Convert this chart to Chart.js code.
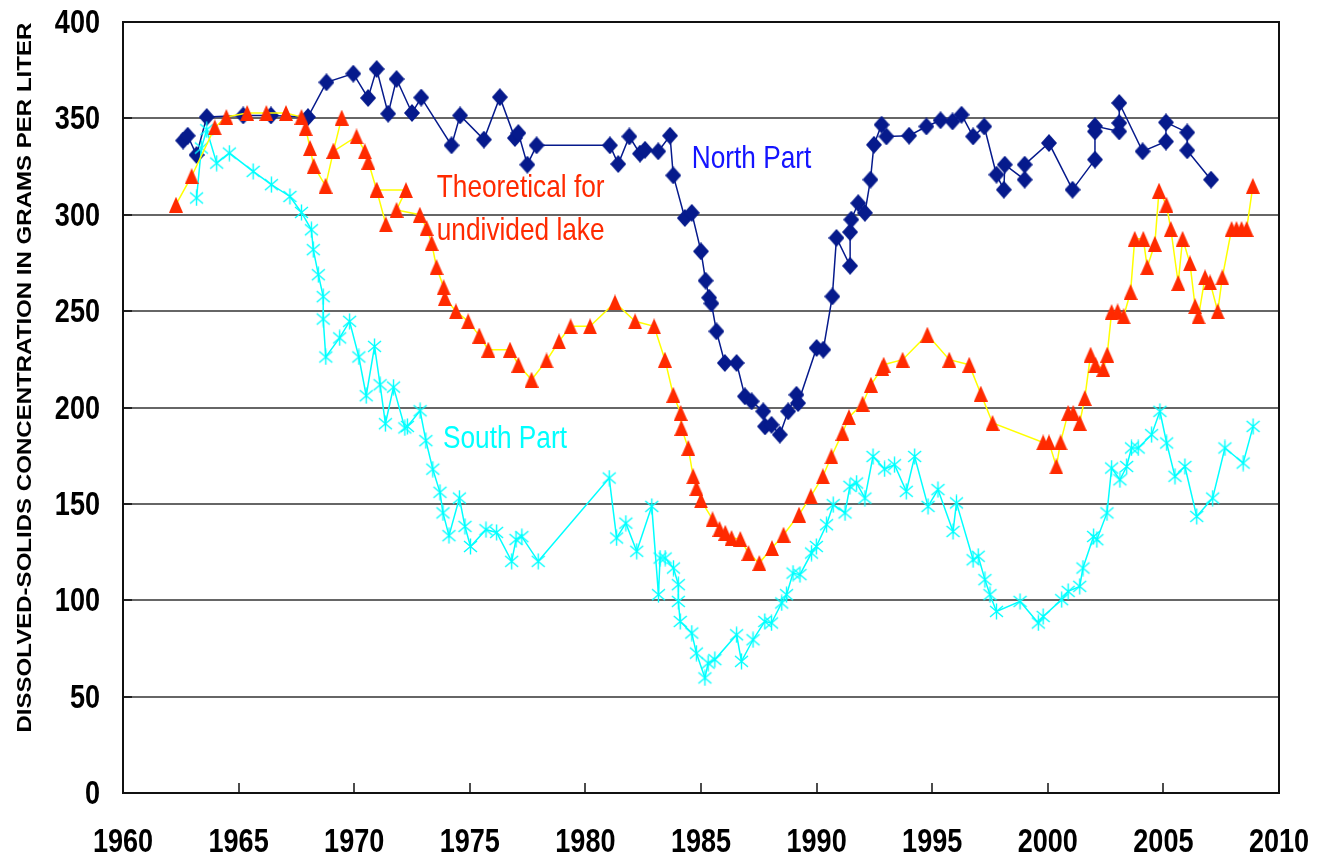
<!DOCTYPE html>
<html>
<head>
<meta charset="utf-8">
<script src="https://cdn.jsdelivr.net/npm/chart.js@4.4.1/dist/chart.umd.min.js"></script>
<style>
html,body{margin:0;padding:0;background:#fff;}
#wrap{width:1317px;height:861px;position:relative;}
</style>
</head>
<body>
<div id="wrap"><canvas id="c" width="1317" height="861"></canvas></div>
<script>
// ---------------- data ----------------
const xTickLabels = ['1960','1965','1970','1975','1980','1985','1990','1995','2000','2005','2010'];
const yTickLabels = ['0','50','100','150','200','250','300','350','400'];
const yAxisTitle = 'DISSOLVED-SOLIDS CONCENTRATION IN GRAMS PER LITER';
const seriesNames = ['North Part', 'Theoretical for undivided lake', 'South Part'];

const northYears = [1962.6,1962.8,1963.18,1963.62,1965.2,1966.4,1968.0,1968.8,1969.96,1970.6,1970.97,1971.47,1971.83,1972.5,1972.9,1974.21,1974.58,1975.61,1976.3,1976.95,1977.1,1977.49,1977.89,1981.06,1981.42,1981.9,1982.36,1982.58,1983.15,1983.66,1983.8,1984.3,1984.6,1985.0,1985.2,1985.35,1985.45,1985.67,1986.03,1986.54,1986.9,1987.19,1987.69,1987.77,1988.05,1988.41,1988.77,1989.13,1989.2,1990.0,1990.29,1990.68,1990.86,1991.45,1991.45,1991.5,1991.8,1992.09,1992.33,1992.48,1992.81,1993.02,1994.0,1994.75,1995.36,1995.88,1996.27,1996.77,1997.25,1997.78,1998.1,1998.14,1999.0,1999.0,2000.05,2001.07,2002.04,2002.04,2002.04,2003.09,2003.09,2003.09,2004.1,2005.11,2005.11,2006.03,2006.03,2007.06];
const northValues = [338.5,341,331,350.7,351.5,351.5,350.7,368.7,373.2,360.6,375.6,352.4,370.4,352.8,360.8,336,351.5,339,361,339.8,342.4,326,336,336,326.3,340.6,331.7,333.7,332.9,341,320.4,298.3,301,281,265.8,257,254,239.5,223.1,223.1,205.8,203.2,198,190.2,191,185.9,198,206.6,202.3,230.9,230,257.6,288,273.5,291,297.5,306,301,318.2,336.3,346.7,340.6,341,345.8,349,348.4,351.9,340.6,345.8,320.8,313,326,318.2,326,337.2,313,328.6,343.2,346,343.2,347.6,358,332.9,338,347.9,342.7,333.4,318.2];

const theoYears = [1962.29,1962.97,1963.97,1964.47,1965.37,1966.2,1967.05,1967.72,1967.9,1968.09,1968.25,1968.76,1969.1,1969.46,1969.1,1970.1,1970.46,1970.61,1970.97,1971.37,1970.97,1972.24,1971.83,1972.84,1973.13,1973.35,1973.56,1973.87,1973.92,1974.4,1974.93,1975.41,1975.8,1976.74,1977.1,1977.67,1978.32,1978.86,1979.36,1980.2,1981.28,1982.15,1982.97,1983.44,1983.8,1984.12,1984.15,1984.45,1984.66,1984.8,1985.0,1985.5,1985.8,1986.05,1986.32,1986.7,1987.05,1987.52,1988.07,1988.57,1989.24,1989.75,1990.27,1990.64,1991.12,1991.4,1991.99,1992.35,1992.84,1992.9,1993.72,1994.79,1995.74,1996.6,1997.1,1997.61,1999.8,2000.05,2000.37,2000.55,2000.88,2001.1,2001.38,2001.6,2001.85,2002.06,2002.4,2002.57,2002.76,2003.02,2003.28,2003.58,2003.76,2004.13,2004.3,2004.63,2004.81,2005.13,2005.32,2005.64,2005.83,2006.15,2006.37,2006.52,2006.8,2007.02,2007.35,2007.55,2007.95,2008.16,2008.38,2008.6,2008.87];
const theoValues = [305.2,320,345.3,350.7,352.8,352.8,352.8,350.7,345,334.6,325.3,315,332.9,350.4,332.9,340.6,332.9,327.5,312.8,295,312.8,312.8,302.5,300,293.1,285.3,272.8,262.4,256.8,249.9,244.7,237.3,230,230,222.2,214.4,224.4,234.3,242.1,242.1,254.5,244.7,242.1,224.8,206.6,197.2,189.4,179,164.3,158.2,151.8,142,137,135,132.3,131.8,124.5,119.3,127.1,134,144.4,153.9,164.3,174.6,186.8,195,202,211.8,220.5,222.2,224.8,237.8,224.8,222.2,207.2,192,181.9,181.9,169.4,181.9,197.2,197.2,192,204.9,227.4,222.2,220,227.4,249.5,249.9,247.3,259.9,287.5,287.5,272.8,284.9,312.5,305.2,292.6,264.6,287.5,274.8,252.5,247.3,267.5,264.9,249.9,267.5,292.6,292.6,292.6,292.6,315];

const southYears = [1963.18,1963.39,1963.62,1964.05,1964.6,1965.63,1966.42,1967.22,1967.72,1968.15,1968.23,1968.45,1968.66,1968.66,1968.77,1969.37,1969.8,1970.2,1970.52,1970.88,1971.12,1971.35,1971.7,1972.19,1972.3,1972.85,1973.1,1973.4,1973.71,1973.84,1974.1,1974.55,1974.79,1975.03,1975.7,1976.16,1976.81,1977.0,1977.25,1977.96,1981.03,1981.35,1981.75,1982.22,1982.87,1983.16,1983.23,1983.45,1983.81,1984.02,1984.02,1984.1,1984.6,1984.8,1985.17,1985.31,1985.6,1986.54,1986.75,1987.25,1987.76,1988.05,1988.49,1988.7,1988.98,1989.28,1989.78,1989.99,1990.43,1990.72,1991.23,1991.44,1991.73,1992.09,1992.44,1992.94,1993.37,1993.88,1994.24,1994.82,1995.25,1995.9,1996.05,1996.77,1996.99,1997.28,1997.5,1997.78,1998.8,1999.59,1999.8,2000.6,2000.88,2001.38,2001.52,2001.98,2002.12,2002.56,2002.76,2003.12,2003.41,2003.62,2003.91,2004.49,2004.85,2005.14,2005.5,2005.93,2006.44,2007.13,2007.66,2008.45,2008.88];
const southValues = [308.7,334.6,344.1,326.8,332,322.5,315.6,309.5,301.2,292.2,281.9,268.9,257.5,245.9,226.2,236.1,244.7,226.2,206.1,231.7,211.8,191.6,210.6,189.4,190.2,198.3,182.8,168,156,145.3,133.5,153,138.3,127.9,136.6,135.2,120.2,131.5,133,120.2,163.4,132.3,140,125.4,148.7,102.9,121.9,121.9,116.7,108.1,99.4,89,83,72.6,59.7,67.4,69.2,82.1,68.3,79.5,89,88.2,98.6,102.9,114.1,113.3,124.5,127.9,139.2,149.6,145.3,159.1,160.8,153,174.6,168.1,170.3,156.5,174.6,148.7,157.4,135.7,150.5,121,122.8,110.7,102.9,94.2,99.4,88.2,91.6,100.3,104.6,107.2,116.7,133.1,131.4,145.3,168.6,162.5,169.4,179,179,185.9,198,181.6,164.3,169.4,143.5,153,179,171.2,190.2];

// ---------------- styling ----------------
const NAVY = '#061a8c';
const RED = '#ff2a00';
const YELLOW = '#ffff00';
const CYAN = '#00ffff';
const SANS = "'Liberation Sans', Arial, sans-serif";
const CONDENSE = 0.82;   // narrow look of the original labels

function toXY(xs, ys){ return xs.map((x,i)=>({x:x, y:ys[i]})); }

function diamondImg(color){
  const c=document.createElement('canvas'); c.width=16; c.height=18;
  const g=c.getContext('2d'); g.fillStyle=color;
  g.beginPath(); g.moveTo(8,0); g.lineTo(16,9); g.lineTo(8,18); g.lineTo(0,9); g.closePath(); g.fill();
  return c;
}
function triangleImg(color){
  const c=document.createElement('canvas'); c.width=14; c.height=16;
  const g=c.getContext('2d'); g.fillStyle=color;
  g.beginPath(); g.moveTo(7,0); g.lineTo(14,16); g.lineTo(0,16); g.closePath(); g.fill();
  return c;
}
function starImg(color){
  const c=document.createElement('canvas'); c.width=17; c.height=17;
  const g=c.getContext('2d'); g.strokeStyle=color; g.lineWidth=1.4;
  g.beginPath();
  g.moveTo(2,3); g.lineTo(15,14);
  g.moveTo(15,3); g.lineTo(2,14);
  g.moveTo(8.5,0.5); g.lineTo(8.5,16.5);
  g.stroke();
  return c;
}

function narrowText(ctx, text, x, y, align, sx){
  ctx.save();
  ctx.translate(x, y);
  ctx.scale(sx, 1);
  ctx.textAlign = align;
  ctx.fillText(text, 0, 0);
  ctx.restore();
}

const framePlugin = {
  id:'frame',
  beforeDatasetsDraw(chart){
    const {ctx, chartArea:a, scales:{x,y}} = chart;
    ctx.save();
    ctx.strokeStyle='#111'; ctx.lineWidth=1.5;
    x.ticks.forEach(t=>{
      const px=Math.round(x.getPixelForValue(t.value));
      ctx.beginPath(); ctx.moveTo(px,a.bottom); ctx.lineTo(px,a.bottom-10); ctx.stroke();
    });
    ctx.strokeStyle='#222'; ctx.lineWidth=2;
    y.ticks.forEach(t=>{
      const py=Math.round(y.getPixelForValue(t.value));
      ctx.beginPath(); ctx.moveTo(a.left,py); ctx.lineTo(a.left+9,py); ctx.stroke();
    });
    ctx.strokeStyle='#111'; ctx.lineWidth=2;
    ctx.strokeRect(a.left, a.top, a.right-a.left, a.bottom-a.top);
    ctx.restore();
  }
};

const textPlugin = {
  id:'texts',
  afterDatasetsDraw(chart){
    const {ctx, chartArea:a, scales:{x,y}} = chart;
    ctx.save();
    ctx.textBaseline='alphabetic';
    // tick labels
    ctx.fillStyle='#000';
    ctx.font = "bold 33px " + SANS;
    x.ticks.forEach((t,i)=>{
      narrowText(ctx, xTickLabels[i], x.getPixelForValue(t.value), a.bottom + 59, 'center', CONDENSE);
    });
    y.ticks.forEach((t,i)=>{
      narrowText(ctx, yTickLabels[i], a.left - 23, y.getPixelForValue(t.value) + 11, 'right', CONDENSE);
    });
    // annotations
    const notes = [
      {t:seriesNames[0], x:1984.6, y:324.4, c:'#1414ff', align:'left'},
      {t:'Theoretical for', x:1977.2, y:309.4, c:RED, align:'center'},
      {t:'undivided lake', x:1977.2, y:287.0, c:RED, align:'center'},
      {t:seriesNames[2], x:1973.84, y:179.1, c:CYAN, align:'left'}
    ];
    ctx.font = "32px " + SANS;
    notes.forEach(n=>{
      ctx.fillStyle=n.c;
      narrowText(ctx, n.t, x.getPixelForValue(n.x), y.getPixelForValue(n.y), n.align, CONDENSE);
    });
    // rotated y-axis title
    ctx.translate(25, y.getPixelForValue(215.5));
    ctx.rotate(-Math.PI/2);
    ctx.font = "bold 21px " + SANS;
    const w = ctx.measureText(yAxisTitle).width;
    ctx.scale(710/w, 1);
    ctx.fillStyle='#000'; ctx.textAlign='center'; ctx.textBaseline='middle';
    ctx.fillText(yAxisTitle, 0, 0);
    ctx.restore();
  }
};

new Chart(document.getElementById('c'), {
  type:'scatter',
  data:{
    datasets:[
      {
        label:seriesNames[1], data:toXY(theoYears, theoValues), showLine:true,
        borderColor:YELLOW, borderWidth:1.5, pointStyle:triangleImg(RED),
        pointRadius:8, pointHoverRadius:8, order:1
      },
      {
        label:seriesNames[2], data:toXY(southYears, southValues), showLine:true,
        borderColor:CYAN, borderWidth:1.5, pointStyle:starImg(CYAN),
        pointRadius:8, pointHoverRadius:8, order:2
      },
      {
        label:seriesNames[0], data:toXY(northYears, northValues), showLine:true,
        borderColor:NAVY, borderWidth:1.5, pointStyle:diamondImg(NAVY),
        pointRadius:8, pointHoverRadius:8, order:3
      }
    ]
  },
  options:{
    responsive:false, animation:false, devicePixelRatio:1,
    layout:{padding:{left:0, right:38, top:22, bottom:0}},
    plugins:{legend:{display:false}, tooltip:{enabled:false}},
    scales:{
      x:{
        type:'linear', min:1960, max:2010,
        ticks:{stepSize:5, display:false},
        grid:{display:false, drawTicks:false},
        border:{display:false},
        afterFit:(s)=>{ s.height = 68; }
      },
      y:{
        min:0, max:400,
        ticks:{stepSize:50, display:false},
        grid:{color:'#666', lineWidth:2, drawTicks:false},
        border:{display:false},
        afterFit:(s)=>{ s.width = 123; }
      }
    }
  },
  plugins:[framePlugin, textPlugin]
});
</script>
</body>
</html>
